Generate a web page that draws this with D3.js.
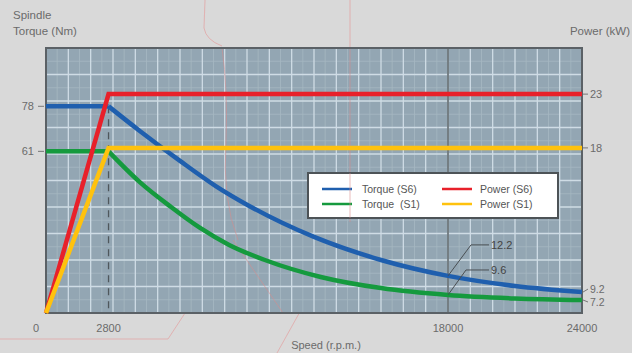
<!DOCTYPE html>
<html><head><meta charset="utf-8">
<script src="https://cdn.jsdelivr.net/npm/d3@7"></script>
<style>
html,body{margin:0;padding:0;background:#d9d9d9;}
svg{display:block;font-family:"Liberation Sans",Arial,sans-serif;}
</style></head>
<body><svg id="c" width="632" height="353"></svg>
<script>
// ---- data ----
const speedTicks = [0, 2800, 18000, 24000];
const torqueTicksLeft = [78, 61];
const powerTicksRight = [23, 18];
const torqueEndLabels = ["9.2", "7.2"];
const torqueAt18000Labels = ["12.2", "9.6"];

const torqueS6Speed = [0, 2800, 4200, 6000, 7600, 9100, 12000, 15000, 18000, 21000, 24000];
const torqueS6Value = [78, 78, 68.7, 57.4, 47.9, 40.4, 28.7, 20.0, 14.0, 10.2, 7.9];
const torqueS1Speed = [0, 2800, 4200, 5600, 6900, 8200, 9800, 12300, 15000, 18000, 21000, 24000];
const torqueS1Value = [61, 61, 49.4, 40.0, 32.1, 25.7, 20.0, 13.6, 9.4, 6.8, 5.5, 4.9];
const powerS6Speed = [0, 2800, 24000];
const powerS6Value = [0, 23, 23];
const powerS1Speed = [0, 2800, 24000];
const powerS1Value = [0, 18, 18];

const legendItems = [
  {label: "Torque (S6)", color: "#1f5fae"},
  {label: "Power (S6)", color: "#e8202a"},
  {label: "Torque  (S1)", color: "#159a3e"},
  {label: "Power (S1)", color: "#ffc20e"}
];

// ---- layout ----
const L = 46, R = 582, T = 48, B = 313;
const svg = d3.select("#c");
const x = d3.scaleLinear().domain([0, 24000]).range([L, R]);
const yT = d3.scaleLinear().domain([0, 100]).range([B, T]);
const H = B - T;
const yP = d3.scaleLinear().domain([0, 18, 23]).range([B, B - 0.623 * H, B - 0.826 * H]);

// faint background drawing lines (decoration behind the chart)
const deco = svg.append("g").attr("fill", "none").attr("stroke", "#e49a9a")
  .attr("stroke-width", 0.8).attr("opacity", 0.8);
deco.append("path").attr("d", "M205,0 L204,28 Q206,40 222,46");
deco.append("path").attr("d", "M350,0 L350,48");
deco.append("path").attr("d", "M0,339 L168,339 L233,240");
deco.append("path").attr("d", "M277,353 L350,222");

// plot background
svg.append("rect").attr("x", L).attr("y", T).attr("width", R - L).attr("height", H)
  .attr("fill", "#93a6b3");

// minor grid
const g = svg.append("g");
d3.range(500, 24000, 1000).forEach(v => g.append("line")
  .attr("x1", x(v)).attr("x2", x(v)).attr("y1", T).attr("y2", B)
  .attr("stroke", "#a6b7c2").attr("stroke-width", 0.8));
d3.range(5, 100, 10).forEach(v => g.append("line")
  .attr("x1", L).attr("x2", R).attr("y1", yT(v)).attr("y2", yT(v))
  .attr("stroke", "#a6b7c2").attr("stroke-width", 0.8));
// major grid
d3.range(1000, 24000, 1000).forEach(v => g.append("line")
  .attr("x1", x(v)).attr("x2", x(v)).attr("y1", T).attr("y2", B)
  .attr("stroke", "#cfdce5").attr("stroke-width", 1.3));
d3.range(10, 100, 10).forEach(v => g.append("line")
  .attr("x1", L).attr("x2", R).attr("y1", yT(v)).attr("y2", yT(v))
  .attr("stroke", "#cfdce5").attr("stroke-width", 1.3));

// faint drawing lines crossing the plot
const deco2 = svg.append("g").attr("fill", "none").attr("stroke", "#d98c8c")
  .attr("stroke-width", 0.8).attr("opacity", 0.7);
deco2.append("path").attr("d", "M222,48 Q228,90 226,140 Q222,200 238,240");
deco2.append("path").attr("d", "M233,240 L283,313");
deco2.append("path").attr("d", "M350,48 L350,222");

// reference lines
svg.append("line").attr("x1", x(18000)).attr("x2", x(18000)).attr("y1", T).attr("y2", B)
  .attr("stroke", "#5d6469").attr("stroke-width", 1.5);
svg.append("line").attr("x1", x(2800)).attr("x2", x(2800)).attr("y1", yT(78)).attr("y2", B)
  .attr("stroke", "#4f575c").attr("stroke-width", 1.3).attr("stroke-dasharray", "7,6");

// border
svg.append("rect").attr("x", L).attr("y", T).attr("width", R - L).attr("height", H)
  .attr("fill", "none").attr("stroke", "#5b6166").attr("stroke-width", 2);

// curves
function drawSeries(sp, val, scale, color, curved) {
  const pts = sp.map((s, i) => [x(s), scale(val[i])]);
  if (curved) {
    svg.append("path").attr("d", d3.line()(pts.slice(0, 2)))
      .attr("fill", "none").attr("stroke", color).attr("stroke-width", 4.5);
    svg.append("path").attr("d", d3.line().curve(d3.curveMonotoneX)(pts.slice(1)))
      .attr("fill", "none").attr("stroke", color).attr("stroke-width", 4.5);
  } else {
    svg.append("path").attr("d", d3.line()(pts))
      .attr("fill", "none").attr("stroke", color).attr("stroke-width", 4.5)
      .attr("stroke-linejoin", "miter");
  }
}
drawSeries(torqueS6Speed, torqueS6Value, yT, legendItems[0].color, true);
drawSeries(torqueS1Speed, torqueS1Value, yT, legendItems[2].color, true);
drawSeries(powerS6Speed, powerS6Value, yP, legendItems[1].color, false);
drawSeries(powerS1Speed, powerS1Value, yP, legendItems[3].color, false);

const txt = "#6b6b6b";
// left ticks
torqueTicksLeft.forEach(v => {
  svg.append("line").attr("x1", L - 8).attr("x2", L - 2).attr("y1", yT(v)).attr("y2", yT(v))
    .attr("stroke", "#777").attr("stroke-width", 1);
  svg.append("text").attr("x", L - 12).attr("y", yT(v)).attr("dy", "0.35em")
    .attr("text-anchor", "end").attr("font-size", 11).attr("fill", txt).text(v);
});
// right power ticks
powerTicksRight.forEach(v => {
  svg.append("line").attr("x1", R + 1).attr("x2", R + 6).attr("y1", yP(v)).attr("y2", yP(v))
    .attr("stroke", "#777").attr("stroke-width", 1);
  svg.append("text").attr("x", R + 8).attr("y", yP(v)).attr("dy", "0.35em")
    .attr("font-size", 11).attr("fill", txt).text(v);
});
// right end torque labels
const endVals = [torqueS6Value[torqueS6Value.length - 1], torqueS1Value[torqueS1Value.length - 1]];
const endShift = [-3, 2];
torqueEndLabels.forEach((t, i) => {
  const yy = yT(endVals[i]);
  svg.append("line").attr("x1", R + 1).attr("x2", R + 6).attr("y1", yy).attr("y2", yy + endShift[i])
    .attr("stroke", "#777").attr("stroke-width", 1);
  svg.append("text").attr("x", R + 8).attr("y", yy + endShift[i]).attr("dy", "0.35em")
    .attr("font-size", 10.5).attr("fill", txt).text(t);
});
// annotations at 18000
const at18 = [torqueS6Value[torqueS6Speed.indexOf(18000)], torqueS1Value[torqueS1Speed.indexOf(18000)]];
const annoOffsets = [[23, -31], [18, -25]];
torqueAt18000Labels.forEach((t, i) => {
  const x0 = x(18000), y0 = yT(at18[i]);
  const x1 = x0 + annoOffsets[i][0], y1 = y0 + annoOffsets[i][1];
  svg.append("polyline").attr("points", [[x0, y0], [x1, y1], [x0 + 41, y1]].join(" "))
    .attr("fill", "none").attr("stroke", "#4a4f53").attr("stroke-width", 1);
  svg.append("text").attr("x", x0 + 43).attr("y", y1).attr("dy", "0.35em")
    .attr("font-size", 11).attr("fill", "#444").text(t);
});
// x labels
speedTicks.forEach(v => {
  svg.append("text").attr("x", v === 0 ? x(v) - 10 : x(v)).attr("y", 332)
    .attr("text-anchor", "middle").attr("font-size", 11).attr("fill", txt).text(v);
});
svg.append("text").attr("x", 326).attr("y", 349).attr("text-anchor", "middle")
  .attr("font-size", 11).attr("fill", txt).text("Speed (r.p.m.)");
// axis titles
svg.append("text").attr("x", 13).attr("y", 19).attr("font-size", 11.5).attr("fill", txt).text("Spindle");
svg.append("text").attr("x", 13).attr("y", 35).attr("font-size", 11.5).attr("fill", txt).text("Torque (Nm)");
svg.append("text").attr("x", 630).attr("y", 35).attr("text-anchor", "end")
  .attr("font-size", 11.5).attr("fill", txt).text("Power (kW)");

// legend
const lg = svg.append("g").attr("transform", "translate(308,173)");
lg.append("rect").attr("width", 250).attr("height", 45).attr("fill", "#fff")
  .attr("stroke", "#4d5357").attr("stroke-width", 2);
legendItems.forEach((d, i) => {
  const col = i % 2, row = Math.floor(i / 2);
  const lx = 14 + col * 120, ly = 16 + row * 15;
  lg.append("line").attr("x1", lx).attr("x2", lx + 30).attr("y1", ly).attr("y2", ly)
    .attr("stroke", d.color).attr("stroke-width", 2.5);
  lg.append("text").attr("x", lx + 40 - col * 2).attr("y", ly).attr("dy", "0.35em")
    .attr("font-size", 10.5).attr("fill", "#555").attr("xml:space", "preserve")
    .style("white-space", "pre").text(d.label);
});
lg.append("line").attr("x1", 42).attr("x2", 42).attr("y1", 0).attr("y2", 45)
  .attr("stroke", "#d98c8c").attr("stroke-width", 0.8).attr("opacity", 0.7);
</script></body></html>
